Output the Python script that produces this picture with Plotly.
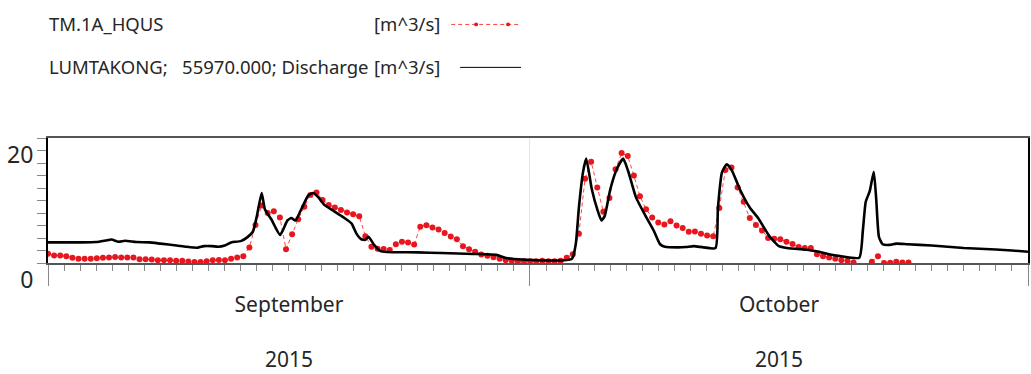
import pandas as pd
import plotly.graph_objects as go

# ---------------- data ----------------
START = "2015-09-01"
END = "2015-11-01"

# TM.1A_HQUS (red) – regular series, one value every ~9.1 h from Sep 1
red_step = "547min"
red_q = [
    1.5, 1.2, 1.2, 1.1, 0.85, 0.7, 0.7, 0.7, 0.75, 0.85,
    0.9, 0.95, 0.9, 0.9, 0.9, 0.6, 0.6, 0.55, 0.45, 0.45,
    0.45, 0.35, 0.35, 0.25, 0.15, 0.15, 0.3, 0.45, 0.5, 0.45,
    0.7, 0.9, 1.1, 2.5, 6.1, 9.2, 8.0, 8.3, 7.3, 2.2,
    4.6, 7.0, 9.0, 10.9, 11.3, 10.1, 9.3, 8.9, 8.5, 8.1,
    7.8, 7.5, 4.3, 2.6, 2.3, 2.25, 2.1, 3.0, 3.4, 3.3,
    2.95, 5.8, 6.05, 5.7, 5.35, 4.8, 4.25, 3.8, 2.7, 2.2,
    1.8, 1.35, 1.15, 0.92, 0.68, 0.45, 0.35, 0.3, 0.3, 0.3,
    0.3, 0.35, 0.3, 0.3, 0.35, 0.85, 1.4, 4.7, 13.5, 16.2,
    12.1, 8.2, 10.4, 15.0, 17.6, 17.1, 14.0, 10.7, 8.6, 7.3,
    6.5, 6.15, 6.7, 6.0, 5.6, 5.0, 5.05, 4.7, 4.4, 4.3,
    8.8, 14.9, 15.3, 12.1, 9.8, 7.2, 6.1, 5.2, 4.0, 3.9,
    3.8, 3.4, 3.05, 2.55, 2.4, 2.4, 1.4, 1.1, 0.87, 0.7,
    0.46, 0.36, 0.1, None, None, 0.2, 1.1, 0.0, 0.05, 0.2,
    0.1, 0.1,
]

# LUMTAKONG discharge (black) – day offset from Sep 1, value
black_day = [
    0.0, 1.0, 2.0, 3.0, 3.6, 3.95, 4.4, 4.8, 5.5, 6.3,
    7.0, 8.0, 8.6, 9.3, 9.7, 10.2, 10.6, 11.0, 11.4, 12.0,
    12.4, 12.75, 13.0, 13.3, 13.5, 13.9, 14.45, 14.9, 15.15, 15.4,
    15.8, 16.2, 16.5, 16.8, 17.2, 17.8, 18.4, 18.9, 19.2, 19.5,
    19.75, 19.95, 20.3, 20.7, 21.1, 23.0, 24.5, 26.5, 27.9, 28.5,
    29.0, 32.6, 32.85, 33.05, 33.3, 33.5, 33.85, 34.2, 34.45, 34.65,
    35.0, 35.4, 35.8, 36.1, 36.6, 37.2, 37.7, 38.1, 38.4, 39.2,
    39.7, 40.2, 40.8, 41.55, 41.7, 41.95, 42.25, 42.55, 43.1, 43.7,
    44.2, 44.9, 45.5, 46.0, 47.4, 48.0, 48.6, 49.3, 50.5, 50.72,
    50.9, 51.15, 51.4, 51.55, 51.72, 51.95, 52.4, 52.8, 53.5, 55.0,
    57.0, 59.0, 60.0, 61.0,
]
black_q = [
    3.3, 3.3, 3.3, 3.35, 3.6, 3.75, 3.4, 3.55, 3.35, 3.3,
    3.1, 2.8, 2.6, 2.45, 2.7, 2.7, 2.6, 2.8, 3.3, 3.5,
    4.1, 5.0, 7.5, 11.2, 8.6, 7.0, 4.5, 6.8, 7.2, 6.8,
    8.8, 10.8, 11.2, 10.6, 9.3, 8.3, 7.3, 6.3, 4.7, 3.8,
    3.7, 4.2, 2.9, 1.9, 1.75, 1.7, 1.6, 1.45, 1.3, 0.8,
    0.65, 0.65, 3.0, 9.0, 14.5, 16.7, 11.8, 8.5, 6.8, 7.5,
    11.8, 15.0, 16.7, 14.8, 10.5, 7.5, 5.2, 3.0, 2.6, 2.5,
    2.55, 2.7, 2.5, 2.4, 8.8, 14.5, 15.8, 14.9, 11.6, 8.8,
    7.2, 4.3, 2.7, 2.4, 2.05, 1.8, 1.4, 1.1, 0.85, 5.2,
    9.8, 11.5, 14.6, 10.3, 4.2, 3.0, 2.9, 3.1, 3.0, 2.8,
    2.4, 2.15, 2.0, 1.8,
]

month_starts = ["2015-09-01", "2015-10-01", "2015-11-01"]
month_mids = ["2015-09-16 00:00", "2015-10-16 12:00"]
month_labels = ["September", "October"]
year_labels = ["2015", "2015"]

y_ticks = [0, 20]
y_range = [0, 20]

legend_name_1 = "TM.1A_HQUS"
legend_unit_1 = "[m^3/s]"
legend_name_2 = "LUMTAKONG;\u00a0\u00a0\u00a055970.000; Discharge"
legend_unit_2 = "[m^3/s]"

# ---------------- build ----------------
red_t = pd.date_range(START, periods=len(red_q), freq=red_step)
black_t = pd.Timestamp(START) + pd.to_timedelta(black_day, unit="D")

FONT = "Noto Sans"
TXT = "#262626"

fig = go.Figure()
fig.add_trace(go.Scatter(
    x=red_t, y=red_q, mode="lines+markers", xaxis="x", yaxis="y",
    line=dict(color="#ff4646", width=1, dash="4px,3px"),
    marker=dict(color="#e8161e", size=6),
    connectgaps=False, showlegend=False, hoverinfo="skip",
))
fig.add_trace(go.Scatter(
    x=black_t, y=black_q, mode="lines", xaxis="x2", yaxis="y",
    line=dict(color="#000000", width=2.6, shape="spline", smoothing=0.5),
    showlegend=False, hoverinfo="skip",
))

W, H = 1031, 374
L, R, T, B = 48, 1, 138, 105
pw, ph = W - L - R, H - T - B


def px(x):
    return (x - L) / pw


def py(y):
    return (H - B - y) / ph


fig.update_layout(
    width=W, height=H, autosize=False,
    margin=dict(l=L, r=R, t=T, b=B, pad=0),
    paper_bgcolor="white", plot_bgcolor="white",
    font=dict(family=FONT, color=TXT),
    xaxis=dict(
        type="date", range=[START, END],
        tickmode="array", tickvals=month_starts,
        ticks="outside", ticklen=21, tickwidth=1, tickcolor="#888888",
        showticklabels=False,
        showgrid=True, gridcolor="#e6e6f3", gridwidth=1,
        showline=True, linecolor="#555555", linewidth=2, mirror=True,
        zeroline=False,
        minor=dict(dtick=86400000, tick0=START, ticks="outside", ticklen=6,
                   tickwidth=1, tickcolor="#888888", showgrid=False),
    ),
    xaxis2=dict(
        type="date", range=[START, END], overlaying="x", anchor="y", side="bottom",
        tickmode="array", tickvals=month_mids,
        ticktext=[f"{m}<br><br>{y}" for m, y in zip(month_labels, year_labels)],
        ticks="", showgrid=False, showline=False, zeroline=False,
        tickfont=dict(family=FONT, size=21, color=TXT),
        ticklabelstandoff=27,
    ),
    yaxis=dict(
        range=y_range, tickmode="array", tickvals=y_ticks,
        ticktext=[str(v) for v in y_ticks],
        ticks="outside", ticklen=9, tickwidth=1, tickcolor="#888888",
        ticklabelposition="outside bottom",
        ticklabelstandoff=8,
        tickfont=dict(family=FONT, size=23, color=TXT),
        showgrid=False, zeroline=False,
        showline=True, linecolor="#000000", linewidth=2, mirror=True,
        minor=dict(dtick=2, ticks="outside", ticklen=9, tickwidth=1,
                   tickcolor="#888888", showgrid=False),
    ),
)

# legend (drawn as text + sample lines above the plot)
LEG_FONT = dict(family=FONT, size=18.5, color=TXT)
row1, row2 = 18, 63
unit_right = 443
fig.add_annotation(x=px(47), y=py(row1), xref="paper", yref="paper", text=legend_name_1,
                   showarrow=False, xanchor="left", yanchor="middle", font=LEG_FONT)
fig.add_annotation(x=px(unit_right), y=py(row1), xref="paper", yref="paper", text=legend_unit_1,
                   showarrow=False, xanchor="right", yanchor="middle", font=LEG_FONT)
fig.add_annotation(x=px(47), y=py(row2), xref="paper", yref="paper", text=legend_name_2,
                   showarrow=False, xanchor="left", yanchor="middle", font=LEG_FONT)
fig.add_annotation(x=px(unit_right), y=py(row2), xref="paper", yref="paper", text=legend_unit_2,
                   showarrow=False, xanchor="right", yanchor="middle", font=LEG_FONT)

fig.add_shape(type="line", xref="paper", yref="paper",
              x0=px(452), x1=px(522), y0=py(row1 + 1), y1=py(row1 + 1),
              line=dict(color="#ff4646", width=1, dash="4px,3px"))
for cx in (477, 509):
    fig.add_shape(type="circle", xref="paper", yref="paper",
                  x0=px(cx - 2), x1=px(cx + 2), y0=py(row1 + 3), y1=py(row1 - 1),
                  line=dict(color="#e8161e", width=0), fillcolor="#e8161e")
fig.add_shape(type="line", xref="paper", yref="paper",
              x0=px(461), x1=px(522), y0=py(row2 + 1), y1=py(row2 + 1),
              line=dict(color="#000000", width=1))

fig.write_html("out.html")
